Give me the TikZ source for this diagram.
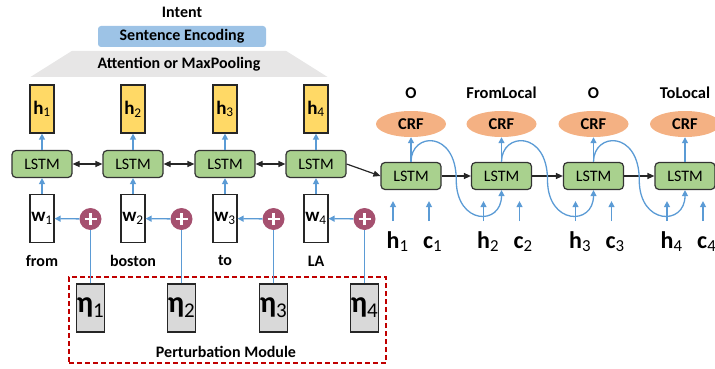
\documentclass[tikz,border=0pt]{standalone}
\usepackage{fontspec}
\setmainfont{Carlito}
\usetikzlibrary{arrows.meta,positioning,shapes.geometric,calc}

\definecolor{lstmgreen}{HTML}{A9D18E}
\definecolor{hidyellow}{HTML}{FFD966}
\definecolor{crforange}{HTML}{F4B183}
\definecolor{encblue}{HTML}{9DC3E6}
\definecolor{poolgray}{HTML}{E7E6E6}
\definecolor{noisegray}{HTML}{D9D9D9}
\definecolor{plusred}{HTML}{A5506F}
\definecolor{flowblue}{HTML}{5B9BD5}
\definecolor{boxred}{HTML}{C00000}

\newcommand{\lsub}[1]{\textsubscript{\mdseries#1}}
\newcommand{\fs}[1]{\fontsize{#1}{#1}\selectfont}

\begin{document}
\begin{tikzpicture}[
  x=1pt, y=-1pt,
  font=\bfseries\fs{16},
  lstm/.style={draw=black!80, line width=1.2pt, fill=lstmgreen, rounded corners=4pt, minimum width=60pt, minimum height=27pt, inner sep=0pt, font=\mdseries\fs{16}},
  vec/.style={draw=black!85, line width=1.2pt, minimum width=24pt, minimum height=48pt, inner sep=0pt, font=\bfseries\fs{19}},
  hid/.style={vec, fill=hidyellow},
  word/.style={vec, fill=white},
  noise/.style={vec, fill=noisegray, font=\bfseries\fs{30}},
  plus/.style={circle, fill=plusred, minimum size=22pt, inner sep=0pt,
    path picture={\draw[white, line width=2.6pt] (path picture bounding box.center) ++(-6pt,0) -- ++(12pt,0);
                  \draw[white, line width=2.6pt] (path picture bounding box.center) ++(0,-6pt) -- ++(0,12pt);}},
  crf/.style={ellipse, fill=crforange, minimum width=70pt, minimum height=26pt, inner sep=0pt, font=\bfseries\fs{16.5}},
  tag/.style={font=\bfseries\fs{16.5}},
  inlab/.style={inner sep=0pt, font=\bfseries\fs{24}},
  feed/.style={draw=flowblue, line width=1.3pt, -{Triangle[length=6pt,width=6pt]}},
  link/.style={draw=black!85, line width=1.2pt, -{Triangle[length=7pt,width=6pt]}},
]
\useasboundingbox (0,0) rectangle (715,369);

% sentence-level encoder
\node (intent) at (182,12) {Intent};
\node[fill=encblue, rounded corners=3pt, minimum width=168pt, minimum height=21pt, inner sep=0pt] (enc) at (182,36.5) {Sentence Encoding};
\node[trapezium, trapezium angle=24, trapezium stretches=true, fill=poolgray, minimum width=298pt, minimum height=26pt, inner sep=0pt] (pool) at (179,64) {Attention or MaxPooling};

% perturbation module
\node[draw=boxred, line width=1.3pt, dash pattern=on 5pt off 3pt, minimum width=317pt, minimum height=86pt] (pert) at (227.5,320) {};
\node (pertlab) at (226,352) {Perturbation Module};

% bidirectional encoder over the perturbed words
\foreach \i/\x/\w in {1/42/from,2/133/boston,3/225/to,4/316/LA} {
  \node[lstm] (l\i) at (\x,164) {LSTM};
  \node[hid] (h\i) at (\x,109) {h\lsub{\i}};
  \node[word] (w\i) at (\x,218.5) {w\lsub{\i}};
  \node (tok\i) at (\x,261) {\w};
  \node[plus] (p\i) at (\x+48.5,219) {};
  \node[noise] (eta\i) at (\x+48.5,308) {η\lsub{\i}};
  \draw[feed] (w\i) -- (l\i);
  \draw[feed] (l\i) -- (h\i);
  \draw[feed] (p\i) -- (w\i);
  \draw[flowblue, line width=1.3pt] (eta\i) -- (p\i);
}
\foreach \i/\j in {1/2,2/3,3/4} {
  \draw[link, {Triangle[length=7pt,width=6pt]}-{Triangle[length=7pt,width=6pt]}] (l\i) -- (l\j);
}

% slot filling decoder
\foreach \i/\x/\t in {1/411/O,2/501.5/FromLocal,3/593.5/O,4/685/ToLocal} {
  \node[lstm] (r\i) at (\x,176) {LSTM};
  \node[crf] (crf\i) at (\x,124) {CRF};
  \node[tag] (tag\i) at (\x,93) {\t};
  \draw[feed] (r\i) -- (crf\i);
  \coordinate (hs\i) at (\x-18,221);
  \coordinate (cs\i) at (\x+18,221);
  \node[inlab, anchor=base west] (hin\i) at (\x-24.5,248) {h\lsub{\i}};
  \node[inlab, anchor=base west] (cin\i) at (\x+12,248) {c\lsub{\i}};
  \draw[feed, shorten >=11pt] (hs\i) -- (hs\i |- r\i.south);
  \draw[feed, shorten >=11pt] (cs\i) -- (cs\i |- r\i.south);
}
\foreach \i/\j in {1/2,2/3,3/4} {
  \draw[link] (r\i) -- (r\j);
  \draw[feed] (r\i.north) .. controls +(0,-30) and +(0,-50) .. ($(r\i.east)!0.5!(r\j.west)+(0,4)$)
    .. controls +(0,45) and +(0,36) .. (r\j.south);
}
\draw[link] (l4.east) -- (r1.west);
\end{tikzpicture}
\end{document}
